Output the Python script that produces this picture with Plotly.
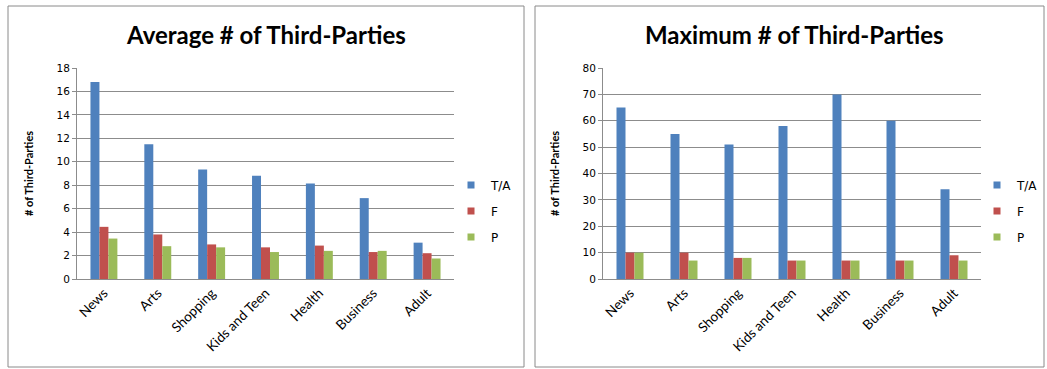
import plotly.graph_objects as go

categories = ["News", "Arts", "Shopping", "Kids and Teen", "Health", "Business", "Adult"]

avg_ta = [16.8, 11.5, 9.35, 8.8, 8.15, 6.9, 3.1]
avg_f = [4.45, 3.8, 2.95, 2.7, 2.85, 2.3, 2.2]
avg_p = [3.45, 2.8, 2.7, 2.3, 2.4, 2.4, 1.75]

max_ta = [65, 55, 51, 58, 70, 60, 34]
max_f = [10, 10, 8, 7, 7, 7, 9]
max_p = [10, 7, 8, 7, 7, 7, 7]

series_names = ["T/A", "F", "P"]
colors = ["#4F81BD", "#C0504D", "#9BBB59"]

W, H = 1047, 369
TICK_FONT = dict(family="DejaVu Sans", size=10.5, color="#000000")
CAT_FONT = dict(family="Lato", size=13.5, color="#000000")
TITLE_FONT = dict(family="Lato", size=24, color="#000000")
GRID = "#8c8c8c"

fig = go.Figure()

panels = [
    dict(vals=[avg_ta, avg_f, avg_p], x="x", y="y", legend="legend"),
    dict(vals=[max_ta, max_f, max_p], x="x2", y="y2", legend="legend2"),
]

for p in panels:
    for name, vals, col in zip(series_names, p["vals"], colors):
        fig.add_trace(go.Bar(
            x=categories, y=vals, name=name,
            marker=dict(color=col, line=dict(width=0)),
            xaxis=p["x"], yaxis=p["y"], showlegend=False,
        ))
        # small square legend key for the series
        fig.add_trace(go.Scatter(
            x=[None], y=[None], name=name, mode="markers",
            marker=dict(symbol="square", size=7, color=col),
            xaxis=p["x"], yaxis=p["y"], legend=p["legend"],
            legendgroup=name, showlegend=True, hoverinfo="skip",
        ))


def px(v):
    return v / W


def py(v):
    return 1 - v / H


yaxis_common = dict(
    showgrid=True, gridcolor=GRID, gridwidth=1,
    showline=True, linecolor=GRID, linewidth=1,
    ticks="outside", ticklen=4, tickcolor=GRID,
    tickfont=TICK_FONT, zeroline=False, automargin=False,
    title=dict(text="# of Third-Parties",
               font=dict(family="Lato", size=11, color="#000000", weight="bold"),
               standoff=20),
)
xaxis_common = dict(
    showline=True, linecolor=GRID, linewidth=1,
    ticks="", tickangle=-45, tickfont=CAT_FONT,
    showgrid=False, automargin=False,
)

legend_common = dict(
    font=dict(family="DejaVu Sans", size=12, color="#000000"),
    bgcolor="rgba(0,0,0,0)", tracegroupgap=7,
    xanchor="left", yanchor="middle", itemclick=False,
)

fig.update_layout(
    width=W, height=H,
    margin=dict(l=0, r=0, t=0, b=0, autoexpand=False),
    paper_bgcolor="white", plot_bgcolor="white",
    barmode="group", bargap=0.5, bargroupgap=0,
    xaxis=dict(domain=[px(77), px(454)], anchor="y", **xaxis_common),
    yaxis=dict(domain=[py(279), py(68)], anchor="x", range=[0, 18],
               dtick=2, **yaxis_common),
    xaxis2=dict(domain=[px(603), px(981)], anchor="y2", **xaxis_common),
    yaxis2=dict(domain=[py(279), py(68)], anchor="x2", range=[0, 80],
                dtick=10, **yaxis_common),
    legend=dict(x=px(451), y=py(211), **legend_common),
    legend2=dict(x=px(977), y=py(211), **legend_common),
    showlegend=True,
)

# chart titles
fig.add_annotation(text="<b>Average # of Third-Parties</b>", x=px(266), y=py(35),
                   xref="paper", yref="paper", xanchor="center", yanchor="middle",
                   showarrow=False, font=TITLE_FONT)
fig.add_annotation(text="<b>Maximum # of Third-Parties</b>", x=px(794), y=py(35),
                   xref="paper", yref="paper", xanchor="center", yanchor="middle",
                   showarrow=False, font=TITLE_FONT)

# chart frames
for x0, x1 in [(8, 524), (535, 1044)]:
    fig.add_shape(type="rect", xref="paper", yref="paper",
                  x0=px(x0), x1=px(x1), y0=py(367), y1=py(6),
                  line=dict(color="#8a8a8a", width=1), layer="below")

fig.write_html("out.html")
